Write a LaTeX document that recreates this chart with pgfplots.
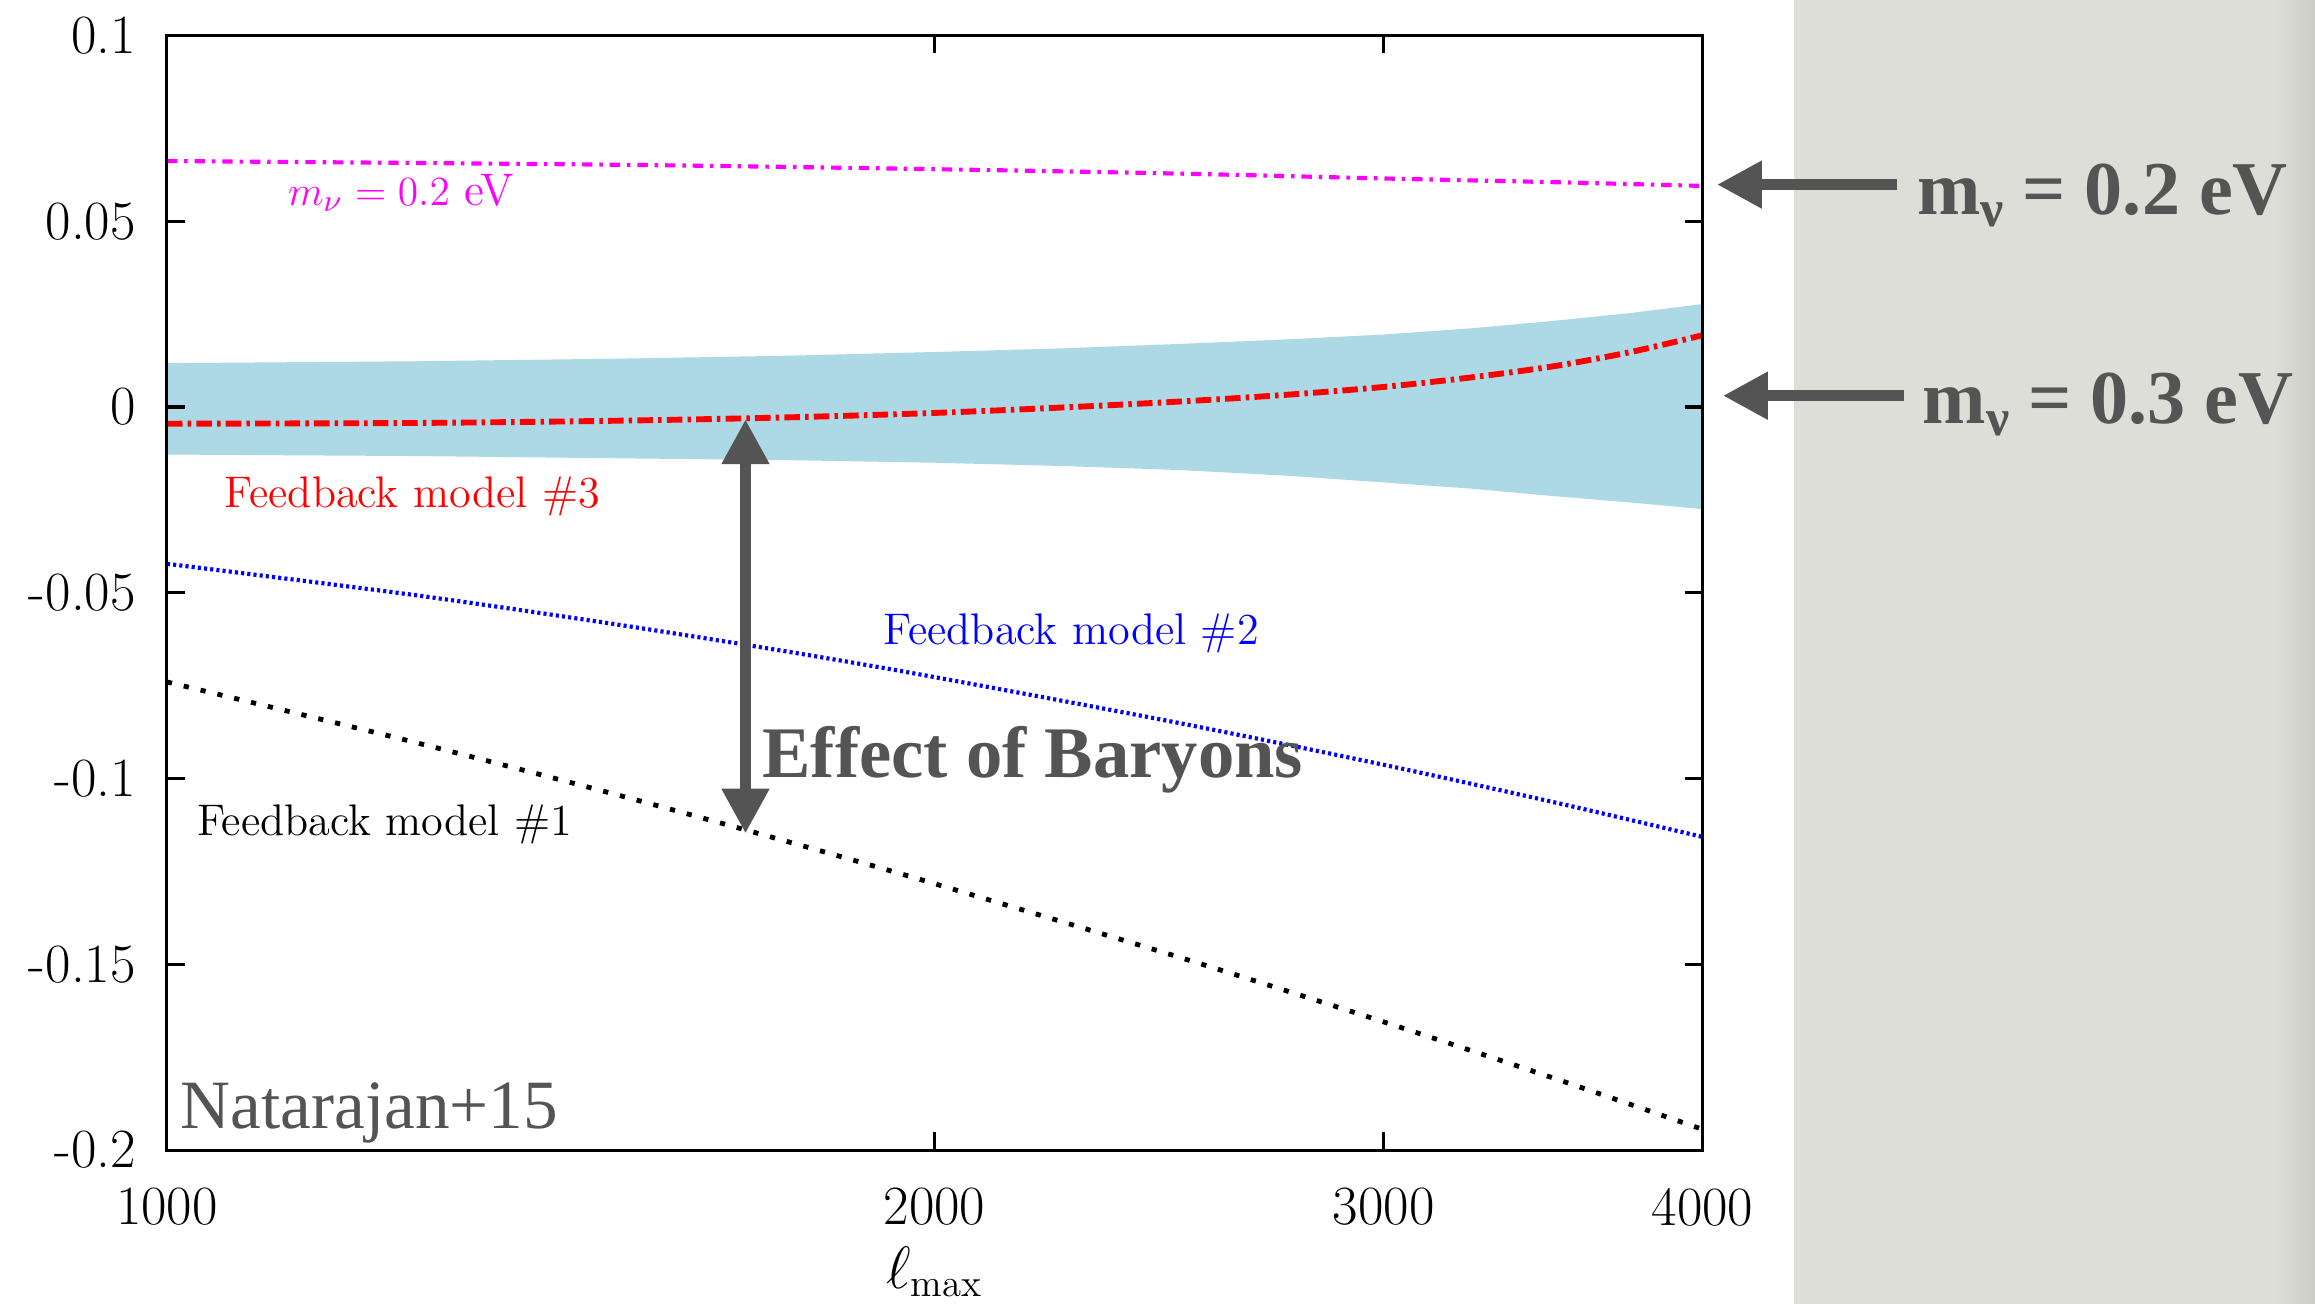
\documentclass[border=0pt]{standalone}
\usepackage{fontspec}
\usepackage{pgfplots}
\pgfplotsset{compat=1.18}
\usetikzlibrary{arrows.meta}
\newfontfamily\annotfont{Liberation Serif}
\definecolor{annot}{RGB}{84,84,84}
\definecolor{bandblue}{RGB}{173,216,230}
\definecolor{panelgray}{RGB}{221,222,216}
\definecolor{paneldark}{RGB}{205,205,199}
\definecolor{mag}{RGB}{255,0,255}
\definecolor{pred}{RGB}{255,0,0}
\definecolor{pblue}{RGB}{0,0,255}

\begin{document}
\begin{tikzpicture}
\useasboundingbox (0,0) rectangle (23.52cm,13.245cm);
\begin{scope}[x=0.015cm,y=0.015cm]
\fill[white] (0,0) rectangle (1568,883);
\fill[panelgray] (1215,0) rectangle (1568,883);
\shade[left color=panelgray, right color=paneldark] (1540,0) rectangle (1568,883);
\end{scope}
\begin{axis}[
  at={(1.695cm,1.56cm)}, anchor=south west,
  scale only axis, width=15.6cm, height=11.325cm,
  xmode=log, xmin=1000, xmax=4000, ymin=-0.2, ymax=0.1,
  xtick={1000,2000,3000,4000}, xticklabels={1000,2000,3000,4000},
  ytick={-0.2,-0.15,-0.1,-0.05,0,0.05,0.1},
  yticklabels={-0.2,-0.15,-0.1,-0.05,0,0.05,0.1},
  tick align=inside, major tick length=0.18cm,
  axis line style={line width=0.9pt},
  every tick/.style={line width=0.9pt, black},
  tick label style={font=\fontsize{16}{19}\selectfont},
  xticklabel style={yshift=-7.5pt},
  yticklabel style={xshift=-5.5pt},
  xlabel={$\ell_{\max}$}, xlabel style={font=\fontsize{16}{19}\selectfont, yshift=1pt},
  axis on top,
]
% band
\addplot[fill=bandblue, draw=none] coordinates {
 (1000,0.0118) (1250,0.0123) (1500,0.0130) (1750,0.0138) (2000,0.0148) (2250,0.0158) (2500,0.0170) (2750,0.0182) (3000,0.0195) (3250,0.0212) (3500,0.0232) (3750,0.0253) (4000,0.0277)
 (4000,-0.0275) (3750,-0.0257) (3500,-0.0240) (3250,-0.0220) (3000,-0.0203) (2750,-0.0185) (2500,-0.0170) (2250,-0.0159) (2000,-0.0150) (1750,-0.0143) (1500,-0.0138) (1250,-0.0132) (1000,-0.0128)
} -- cycle;
% magenta
\addplot[mag, smooth, line width=1.2pt, dash pattern=on 3pt off 2pt on 1pt off 2pt] coordinates {
 (1000,0.0662) (1500,0.0652) (2000,0.0640) (2500,0.0628) (3000,0.0615) (3500,0.0605) (4000,0.0595)
};
% red
\addplot[pred, smooth, line width=1.7pt, dash pattern=on 4.5pt off 1.5pt on 1pt off 1.5pt] coordinates {
 (1000,-0.0045) (1250,-0.0043) (1500,-0.0037) (1750,-0.0028) (2000,-0.0016) (2250,-0.0001) (2500,0.0015) (2750,0.0033) (3000,0.0054) (3250,0.0080) (3500,0.0110) (3750,0.0148) (4000,0.0193)
};
% blue
\addplot[pblue, smooth, line width=1.2pt, dash pattern=on 0.9pt off 0.9pt] coordinates {
 (1000,-0.0422) (1250,-0.0506) (1500,-0.0585) (1750,-0.0658) (2000,-0.0727) (2500,-0.0852) (3000,-0.0963) (3500,-0.1064) (4000,-0.1157)
};
% black
\addplot[black, smooth, line width=1.4pt, dash pattern=on 1.5pt off 3.5pt] coordinates {
 (1000,-0.0740) (1250,-0.0902) (1500,-0.1043) (1750,-0.1169) (2000,-0.1283) (2500,-0.1483) (3000,-0.1655) (3500,-0.1807) (4000,-0.1944)
};
\node[anchor=base west, inner sep=0pt, text=mag, font=\fontsize{13.2}{16}\selectfont] at (axis cs:1115,0.0543) {$m_\nu = 0.2$ eV};
\node[anchor=base west, inner sep=0pt, text=pred, font=\fontsize{12.8}{15}\selectfont] at (axis cs:1053,-0.0271) {Feedback model \#3};
\node[anchor=base west, inner sep=0pt, text=pblue, font=\fontsize{12.8}{15}\selectfont] at (axis cs:1909,-0.0640) {Feedback model \#2};
\node[anchor=base west, inner sep=0pt, text=black, font=\fontsize{12.8}{15}\selectfont] at (axis cs:1027,-0.1152) {Feedback model \#1};
\node[anchor=base west, inner sep=0pt, text=annot, font=\annotfont\fontsize{20}{24}\selectfont] at (axis cs:1012,-0.1942) {Natarajan+15};
\draw[annot, line width=3.2pt, {Triangle[width=13pt,length=13pt]}-{Triangle[width=13pt,length=13pt]}] (axis cs:1686,-0.0033) -- (axis cs:1686,-0.1148);
\node[anchor=base west, inner sep=0pt, text=annot, font=\annotfont\bfseries\fontsize{21}{25}\selectfont] at (axis cs:1711,-0.0997) {Effect of Baryons};
\end{axis}
\begin{scope}[x=0.015cm,y=0.015cm]
\draw[annot, line width=3.2pt, -{Triangle[width=13pt,length=13pt]}] (1285,758) -- (1163,758);
\draw[annot, line width=3.2pt, -{Triangle[width=13pt,length=13pt]}] (1290,615) -- (1167,615);
\node[anchor=base west, inner sep=0pt, text=annot, font=\annotfont\bfseries\fontsize{22}{26}\selectfont] at (1298,738) {m\raisebox{-0.35ex}{\fontsize{15}{17}\selectfont ν} = 0.2 eV};
\node[anchor=base west, inner sep=0pt, text=annot, font=\annotfont\bfseries\fontsize{22}{26}\selectfont] at (1302,596) {m\raisebox{-0.35ex}{\fontsize{15}{17}\selectfont ν} = 0.3 eV};
\end{scope}
\end{tikzpicture}
\end{document}
